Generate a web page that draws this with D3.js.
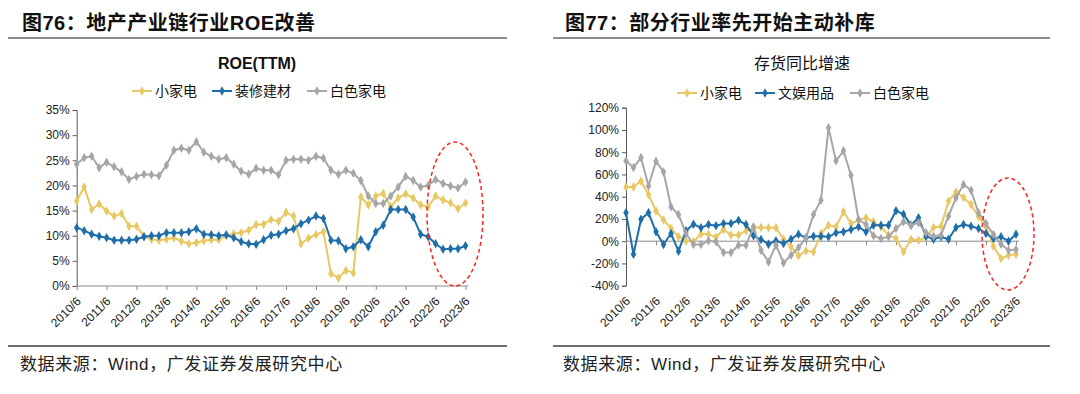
<!DOCTYPE html>
<html>
<head>
<meta charset="utf-8">
<script src="https://cdn.jsdelivr.net/npm/d3@7"></script>
<style>
body{margin:0;background:#fff;}
svg{display:block;}
text{font-family:"Liberation Sans",Arial,"Noto Sans CJK SC",sans-serif;}
.cjk{font-family:"Noto Sans CJK SC",sans-serif;}
</style>
</head>
<body>
<svg id="chart" width="1080" height="394"></svg>
<script>
var quarters = ["2010/6","2010/9","2010/12",
  "2011/3","2011/6","2011/9","2011/12","2012/3","2012/6","2012/9","2012/12",
  "2013/3","2013/6","2013/9","2013/12","2014/3","2014/6","2014/9","2014/12",
  "2015/3","2015/6","2015/9","2015/12","2016/3","2016/6","2016/9","2016/12",
  "2017/3","2017/6","2017/9","2017/12","2018/3","2018/6","2018/9","2018/12",
  "2019/3","2019/6","2019/9","2019/12","2020/3","2020/6","2020/9","2020/12",
  "2021/3","2021/6","2021/9","2021/12","2022/3","2022/6","2022/9","2022/12",
  "2023/3","2023/6"];
var yearTicks = ["2010/6","2011/6","2012/6","2013/6","2014/6","2015/6","2016/6",
  "2017/6","2018/6","2019/6","2020/6","2021/6","2022/6","2023/6"];

// 图76 ROE(TTM), %
var roeSmall = [16.9,19.7,15.2,16.3,14.9,13.9,14.4,11.9,11.9,9.9,9.3,9.1,9.3,9.6,8.9,8.4,8.6,9.0,9.2,9.2,
  10.0,10.4,10.6,11.1,12.2,12.3,13.2,12.9,14.6,13.9,8.4,9.5,10.2,10.8,2.5,1.6,3.1,2.6,17.7,16.1,
  17.9,18.4,15.8,17.5,18.3,17.5,16.1,15.7,17.9,17.1,16.5,15.4,16.5];
var roeBuild = [11.6,11.0,10.3,9.9,9.6,9.1,9.1,9.1,9.3,9.8,10.0,10.0,10.6,10.6,10.6,10.8,11.4,10.3,10.2,10.0,
  10.2,9.6,8.8,8.4,8.3,9.2,10.1,10.3,11.0,11.4,12.4,13.1,13.9,13.4,9.1,9.0,7.4,7.8,9.2,7.8,
  10.8,12.1,15.2,15.2,15.2,13.7,10.3,9.8,8.4,7.3,7.4,7.4,8.0];
var roeWhite = [24.2,25.5,25.8,23.5,24.6,23.7,22.7,21.2,21.8,22.2,22.1,21.9,24.0,27.0,27.4,27.0,28.7,26.6,25.8,25.2,
  25.5,24.2,22.8,22.2,23.4,23.0,23.0,22.1,25.0,25.2,25.2,25.0,25.8,25.4,23.0,22.2,23.0,22.4,21.0,17.9,
  16.4,16.4,17.9,19.7,21.8,21.0,19.7,20.0,21.2,20.4,19.9,19.5,20.7];

// 图77 存货同比增速, %
var invSmall = [48.8,48.8,54.2,42.0,27.1,19.1,11.6,4.1,0.2,-0.5,6.5,6.3,3.5,10.5,5.6,5.6,9.3,12.0,12.3,12.0,
  12.0,1.8,-5.1,-13.0,-8.7,-9.6,6.9,14.4,12.9,26.4,15.9,18.9,21.0,17.4,12.9,5.4,2.4,-9.6,1.5,0.9,
  3.3,12.3,13.5,36.0,44.3,39.3,33.0,21.9,12.9,-4.5,-15.6,-12.6,-11.7];
var invToy = [25.5,-11.7,19.8,25.5,8.4,-3.0,6.9,-9.0,9.3,15.3,12.0,15.0,13.8,15.9,15.9,18.8,15.0,4.8,1.5,-2.7,
  0.3,-2.1,1.8,6.3,3.0,4.5,4.5,3.9,7.5,8.4,10.5,12.9,8.4,14.4,14.4,14.4,27.3,24.3,14.4,21.0,
  4.5,1.8,3.9,1.8,12.3,15.0,13.5,11.4,6.9,2.4,3.9,0.0,6.3];
var invWhite = [72.2,66.2,75.2,49.7,71.9,62.3,30.9,24.0,6.9,-3.0,-3.0,0.3,-0.6,-10.2,-10.2,-3.6,-3.6,12.9,-8.1,-18.6,
  -3.6,-19.5,-12.6,-5.7,3.0,24.0,36.9,102.0,72.2,81.2,59.3,19.5,15.0,4.8,2.4,3.9,11.4,17.4,14.4,16.5,
  7.5,4.5,5.4,22.5,39.0,50.9,45.8,25.5,15.9,6.0,-2.7,-8.1,-7.5];

var leftYTicks = [0,5,10,15,20,25,30,35];
var rightYTicks = [-40,-20,0,20,40,60,80,100,120];

var colYellow = "#E8C862", colBlue = "#1F6EAA", colGray = "#A6A6A6";

var svg = d3.select("#chart");
svg.append("rect").attr("width",1080).attr("height",394).attr("fill","#fff");

function drawPanel(p){
  var g = svg.append("g");

  // figure title + rules
  var t = g.append("text").attr("x",p.titleX).attr("y",30).attr("font-size","20px").attr("fill","#111")
    .attr("letter-spacing","0.5px");
  p.title.forEach(function(s){
    t.append("tspan").attr("class",s[1] ? "" : "cjk")
      .attr("font-weight",s[1] ? "bold" : "600").text(s[0]);
  });
  g.append("line").attr("x1",p.ruleX0).attr("x2",p.ruleX1).attr("y1",38).attr("y2",38)
    .attr("stroke","#8c8c8c").attr("stroke-width",2);
  g.append("line").attr("x1",p.ruleX0).attr("x2",p.ruleX1).attr("y1",346).attr("y2",346)
    .attr("stroke","#404040").attr("stroke-width",1.5);
  var src = g.append("text").attr("x",p.srcX).attr("y",370).attr("font-size","17px").attr("fill","#222")
    .attr("letter-spacing","0.6px");
  src.append("tspan").attr("class","cjk").text("数据来源：");
  src.append("tspan").text("Wind");
  src.append("tspan").attr("class","cjk").text("，广发证券发展研究中心");

  // chart title
  g.append("text").attr("x",p.chartTitleX).attr("y",69).attr("text-anchor","middle")
    .attr("class",p.chartTitleBold ? "" : "cjk")
    .attr("font-size","16px").attr("font-weight",p.chartTitleBold ? "bold" : "normal")
    .attr("fill","#111").text(p.chartTitle);

  var x = d3.scalePoint().domain(quarters).range([p.x0,p.x1]);
  var y = d3.scaleLinear().domain(p.yDomain).range([p.yBottom,p.yTop]);

  // y axis
  var yAxis = g.append("g").attr("transform","translate("+p.x0+",0)")
    .call(d3.axisLeft(y).tickValues(p.yTicks).tickSize(4).tickPadding(3).tickFormat(function(d){return d+"%";}));
  yAxis.select(".domain").attr("stroke","#595959");
  yAxis.selectAll(".tick line").attr("stroke","#595959");
  yAxis.selectAll(".tick text").attr("font-size","12px").attr("fill","#222")
    .attr("font-family","'Liberation Sans',Arial,sans-serif");

  // x axis at 0%
  var y0 = y(0);
  var xAxis = g.append("g").attr("transform","translate(0,"+y0+")")
    .call(d3.axisBottom(x).tickValues(yearTicks).tickSize(4).tickSizeOuter(0).tickFormat(""));
  xAxis.select(".domain").attr("stroke","#8a8a8a").attr("d","M"+p.x0+",0H"+(p.x1+3));
  xAxis.selectAll(".tick line").attr("stroke","#8a8a8a");

  // rotated year labels below the plot
  g.selectAll("text.xl").data(yearTicks).enter().append("text")
    .attr("class","xl")
    .attr("transform",function(d){return "translate("+(x(d)+2)+","+(p.yBottom+13)+") rotate(-45)";})
    .attr("text-anchor","end").attr("dy","0.35em")
    .attr("font-size","12px").attr("fill","#222").text(function(d){return d;});

  // series
  var line = d3.line().x(function(d,i){return x(quarters[i]);}).y(function(d){return y(d);});
  var sym = d3.symbol().type(d3.symbolDiamond).size(26);
  p.series.forEach(function(s){
    g.append("path").datum(s.values).attr("d",line).attr("fill","none")
      .attr("stroke",s.color).attr("stroke-width",2).attr("stroke-linejoin","round");
    g.append("g").selectAll("path").data(s.values).enter().append("path")
      .attr("d",sym)
      .attr("transform",function(d,i){return "translate("+x(quarters[i])+","+y(d)+")";})
      .attr("fill",s.color);
  });

  // legend
  p.series.forEach(function(s){
    var lg = g.append("g").attr("transform","translate("+s.lx+","+p.legendY+")");
    lg.append("line").attr("x1",0).attr("x2",20).attr("stroke",s.color).attr("stroke-width",2);
    lg.append("path").attr("d",sym).attr("transform","translate(10,0)").attr("fill",s.color);
    lg.append("text").attr("class","cjk").attr("x",23).attr("dy","0.35em")
      .attr("font-size","14px").attr("fill","#111").text(s.name);
  });

  // red dashed highlight
  g.append("ellipse").attr("cx",p.ell[0]).attr("cy",p.ell[1]).attr("rx",p.ell[2]).attr("ry",p.ell[3])
    .attr("fill","none").attr("stroke","#ff2020").attr("stroke-width",1.5).attr("stroke-dasharray","4,3");
}

drawPanel({
  title:[["图76：",true],["地产产业链行业",false],["ROE",true],["改善",false]],
  titleX:22, ruleX0:8, ruleX1:507, srcX:20,
  chartTitle:"ROE(TTM)", chartTitleBold:true, chartTitleX:257,
  x0:76.7, x1:465.5, yTop:110, yBottom:286, yDomain:[0,35], yTicks:leftYTicks,
  legendY:91,
  series:[
    {name:"小家电", values:roeSmall, color:colYellow, lx:132},
    {name:"装修建材", values:roeBuild, color:colBlue, lx:212},
    {name:"白色家电", values:roeWhite, color:colGray, lx:307}
  ],
  ell:[455,214,28,72]
});

drawPanel({
  title:[["图77：",true],["部分行业率先开始主动补库",false]],
  titleX:565, ruleX0:553, ruleX1:1050, srcX:563,
  chartTitle:"存货同比增速", chartTitleBold:false, chartTitleX:802,
  x0:626, x1:1016, yTop:107.7, yBottom:285.7, yDomain:[-40,120], yTicks:rightYTicks,
  legendY:93,
  series:[
    {name:"小家电", values:invSmall, color:colYellow, lx:677},
    {name:"文娱用品", values:invToy, color:colBlue, lx:755},
    {name:"白色家电", values:invWhite, color:colGray, lx:850}
  ],
  ell:[1008,234,26,56]
});
</script>
</body>
</html>
